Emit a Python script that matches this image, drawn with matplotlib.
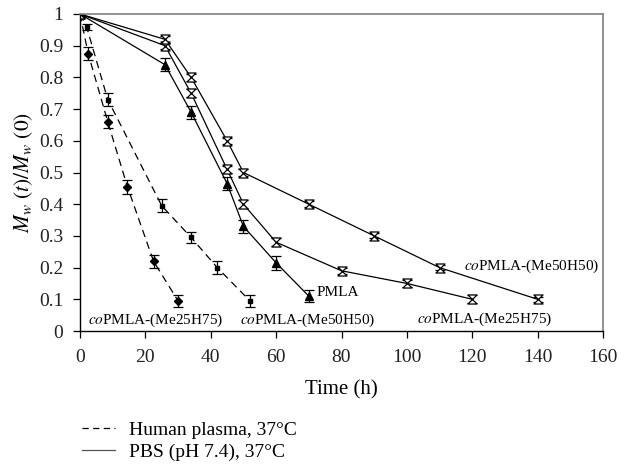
import numpy as np
import matplotlib
matplotlib.use("Agg")
import matplotlib.pyplot as plt
from matplotlib.path import Path
from matplotlib.lines import Line2D

plt.rcParams['font.family'] = ['Liberation Serif', 'DejaVu Serif']
plt.rcParams['mathtext.fontset'] = 'stix'

# human plasma, 37 C (dashed)
t_plasma_25 = [0, 2.5, 8.5, 14.5, 22.5, 30]
y_plasma_25 = [1.0, 0.875, 0.66, 0.455, 0.22, 0.095]
e_plasma_25 = [0.01, 0.02, 0.02, 0.022, 0.02, 0.02]

t_plasma_50 = [0, 2, 8.5, 25, 34, 42, 52]
y_plasma_50 = [1.0, 0.96, 0.73, 0.395, 0.295, 0.2, 0.095]
e_plasma_50 = [0.01, 0.01, 0.02, 0.02, 0.018, 0.02, 0.02]

# PBS pH 7.4, 37 C (solid)
t_pmla = [0, 26, 34, 45, 50, 60, 70]
y_pmla = [1.0, 0.84, 0.69, 0.465, 0.33, 0.215, 0.11]
e_pmla = [0.01, 0.02, 0.02, 0.02, 0.02, 0.022, 0.02]

t_pbs_25 = [0, 26, 34, 45, 50, 60, 80, 100, 120]
y_pbs_25 = [1.0, 0.90, 0.75, 0.51, 0.40, 0.28, 0.19, 0.15, 0.10]
e_pbs_25 = [0.01, 0.01, 0.012, 0.012, 0.012, 0.012, 0.01, 0.01, 0.012]

t_pbs_50 = [0, 26, 34, 45, 50, 70, 90, 110, 140]
y_pbs_50 = [1.0, 0.92, 0.80, 0.60, 0.50, 0.40, 0.30, 0.20, 0.10]
e_pbs_50 = [0.01, 0.01, 0.01, 0.01, 0.01, 0.01, 0.008, 0.008, 0.008]

# hourglass marker
hourglass = Path([(-1, 1), (1, 1), (-1, -1), (1, -1), (-1, 1)],
                 [Path.MOVETO, Path.LINETO, Path.LINETO, Path.LINETO, Path.CLOSEPOLY])

fig = plt.figure(figsize=(6.26, 4.68), dpi=100)
ax = fig.add_axes([80 / 626, 1 - 331 / 468, 523 / 626, 317 / 468])

eb = dict(color='black', capsize=3.5, elinewidth=0.9, capthick=0.9, lw=0.9)
dash = (0, (6, 4))

ax.errorbar(t_plasma_25, y_plasma_25, yerr=e_plasma_25, ls=dash, marker='D', ms=4.5, **eb)
ax.errorbar(t_plasma_50, y_plasma_50, yerr=e_plasma_50, ls=dash, marker='s', ms=3, **eb)
ax.errorbar(t_pmla, y_pmla, yerr=e_pmla, ls='-', marker='^', ms=5.5, **eb)
ax.errorbar(t_pbs_25, y_pbs_25, yerr=e_pbs_25, ls='-', marker=hourglass, ms=6.5,
            mfc='white', mec='black', mew=0.9, **eb)
ax.errorbar(t_pbs_50, y_pbs_50, yerr=e_pbs_50, ls='-', marker=hourglass, ms=6.5,
            mfc='white', mec='black', mew=0.9, **eb)

ax.set_xlim(0, 160)
ax.set_ylim(0, 1)
ax.set_xticks(np.arange(0, 161, 20))
ax.set_yticks(np.arange(0, 1.01, 0.1))
ax.set_yticklabels(['0'] + ['%.1f' % v for v in np.arange(0.1, 0.95, 0.1)] + ['1'])
ax.tick_params(direction='out', length=5, width=0.9, labelsize=14, labelcolor='#222222')
ax.tick_params(axis='x', pad=8)
ax.tick_params(axis='y', pad=7)

for s in ['top', 'right']:
    ax.spines[s].set_color('#808080')
    ax.spines[s].set_linewidth(1.2)
for s in ['left', 'bottom']:
    ax.spines[s].set_linewidth(1.0)

ax.set_xlabel('Time (h)', fontsize=15, labelpad=10)
ax.set_ylabel(r'$M_w\ (t)/M_w\ (0)$', fontsize=15.5, labelpad=3)

lab = dict(fontsize=11, va='center', ha='left')
ax.text(2.4, 0.033, r'$\mathit{co}$PMLA-(Me25H75)', **lab)
ax.text(49, 0.033, r'$\mathit{co}$PMLA-(Me50H50)', **lab)
ax.text(72.5, 0.12, 'PMLA', **lab)
ax.text(117.5, 0.205, r'$\mathit{co}$PMLA-(Me50H50)', **lab)
ax.text(103, 0.037, r'$\mathit{co}$PMLA-(Me25H75)', **lab)

handles = [Line2D([], [], color='black', lw=0.9, ls=(0, (5, 3.5))),
           Line2D([], [], color='#555555', lw=0.9, ls='-')]
fig.legend(handles, ['Human plasma, 37°C', 'PBS (pH 7.4), 37°C'],
           loc='upper left', bbox_to_anchor=(82 / 626, 1 - 421 / 468),
           frameon=False, fontsize=14, handlelength=1.7, handletextpad=0.7,
           labelspacing=0.22, borderpad=0, borderaxespad=0)

fig.savefig('out.png', dpi=100)
